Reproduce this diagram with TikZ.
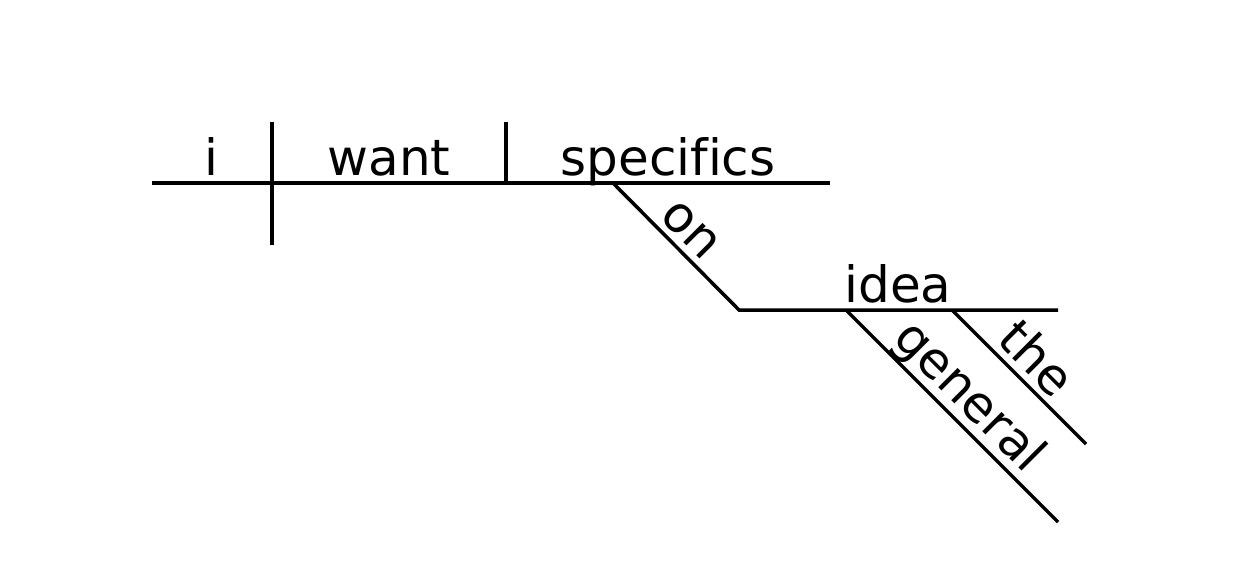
\documentclass[tikz,border=0pt]{standalone}
\usepackage{fontspec}
\setmainfont[Ligatures=NoCommon]{DejaVu Sans}
\begin{document}
\begin{tikzpicture}[x=1pt,y=1pt,
  ln/.style={line width=3.5pt},
  word/.style={anchor=base,inner sep=0pt,font=\fontsize{50}{60}\selectfont},
  slant/.style={word,rotate=-45}]
\useasboundingbox[fill=white] (0,0) rectangle (1258,-568);
% main line
\coordinate (mL) at (152,-183);
\coordinate (mR) at (830,-183);
\coordinate (sT) at (272,-122);
\coordinate (sB) at (272,-245);
\coordinate (vT) at (506,-122);
\coordinate (vB) at (506,-183);
\coordinate (onA) at (613,-183);
\coordinate (onB) at (739,-310);
\coordinate (iR) at (1058,-310);
\coordinate (gA) at (846,-310);
\coordinate (gB) at (1058,-522);
\coordinate (tA) at (952,-310);
\coordinate (tB) at (1086,-444);
\draw[ln] (mL) -- (mR);
\draw[ln] (sT) -- (sB);
\draw[ln] (vT) -- (vB);
\draw[ln] (onA) -- (onB) -- (iR);
\draw[ln] (gA) -- (gB);
\draw[ln] (tA) -- (tB);
\node[word] (i) at (211,-175) {i};
\node[word] (want) at (389,-175) {want};
\node[word] (spec) at (668,-175) {specifics};
\node[word] (idea) at (898,-302) {idea};
\node[slant] (on) at (680.9,-239.5) {on};
\node[slant] (gen) at (958.5,-407.5) {general};
\node[slant] (the) at (1024.2,-370.8) {the};
\end{tikzpicture}
\end{document}
